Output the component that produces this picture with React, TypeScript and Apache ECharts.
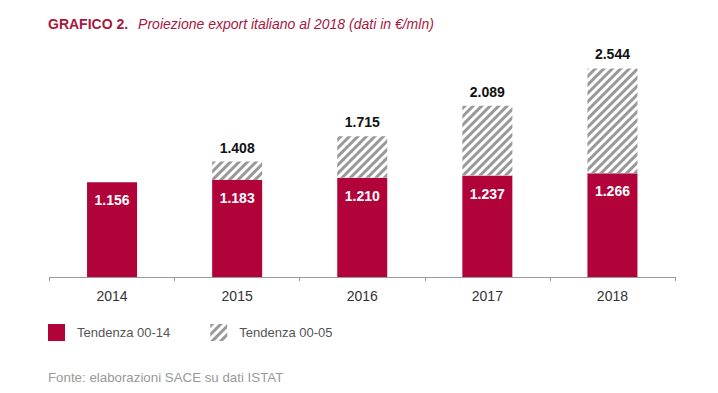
import React, { useEffect, useRef } from "react";
import * as echarts from "echarts";

const years = ["2014", "2015", "2016", "2017", "2018"];
const tendenza0014 = [1156, 1183, 1210, 1237, 1266];
const totals: (number | null)[] = [null, 1408, 1715, 2089, 2544];
const seriesNames = ["Tendenza 00-14", "Tendenza 00-05"];

const RED = "#b1023a";
const FONT = "Liberation Sans, Arial, sans-serif";
const fmt = (v: number) => String(Math.round(v)).replace(/\B(?=(\d{3})+(?!\d))/g, ".");

export default function App() {
  const ref = useRef<HTMLDivElement>(null);
  useEffect(() => {
    const chart = echarts.init(ref.current!, null, { renderer: "svg" });
    const hatch = totals.map((t, i) => (t == null ? null : t - tendenza0014[i]));
    chart.setOption({
      animation: false,
      textStyle: { fontFamily: FONT },
      title: {
        left: 48,
        top: 15,
        padding: 0,
        text: "{b|GRAFICO 2.}  {i|Proiezione export italiano al 2018 (dati in €/mln)}",
        textStyle: {
          fontWeight: "normal",
          rich: {
            b: { fontSize: 14, fontWeight: "bold", color: "#a8173e", fontFamily: FONT },
            i: { fontSize: 14, fontWeight: "normal", fontStyle: "italic", color: "#a8173e", fontFamily: FONT },
          },
        },
      },
      graphic: [
        {
          type: "text",
          left: 48,
          top: 371,
          style: {
            text: "Fonte: elaborazioni SACE su dati ISTAT",
            fontSize: 13.3,
            fill: "#999",
            fontFamily: FONT,
          },
        },
      ],
      legend: {
        left: 48,
        top: 324,
        padding: 0,
        itemWidth: 17,
        itemHeight: 17,
        itemGap: 40,
        icon: "rect",
        textStyle: { fontSize: 13, color: "#555", padding: [0, 0, 0, 7] },
        data: seriesNames,
      },
      grid: { left: 49.5, right: 43, top: 31, bottom: 116 },
      xAxis: {
        type: "category",
        data: years,
        axisLine: { lineStyle: { color: "#999", width: 1 } },
        axisTick: { show: true, length: 4, lineStyle: { color: "#999" } },
        axisLabel: { fontSize: 14, color: "#333", margin: 12 },
      },
      yAxis: { type: "value", min: 0, max: 3000, show: false, splitLine: { show: false } },
      series: [
        {
          name: seriesNames[0],
          type: "bar",
          stack: "tot",
          barWidth: 50,
          data: tendenza0014,
          itemStyle: { color: RED },
          label: {
            show: true,
            position: "insideTop",
            distance: 11,
            color: "#fff",
            fontSize: 14,
            fontWeight: "bold",
            formatter: (p: any) => fmt(p.value),
          },
        },
        {
          name: seriesNames[1],
          type: "bar",
          stack: "tot",
          barWidth: 50,
          data: hatch,
          itemStyle: {
            color: "#ffffff",
            decal: {
              symbol: "rect",
              symbolSize: 1,
              color: "#999999",
              backgroundColor: "#ffffff",
              dashArrayX: [1, 0],
              dashArrayY: [2.5, 2.5],
              rotation: -Math.PI / 4,
            },
          },
          label: {
            show: true,
            position: "top",
            distance: 7,
            color: "#111",
            fontSize: 14,
            fontWeight: "bold",
            formatter: (p: any) => (totals[p.dataIndex] == null ? "" : fmt(totals[p.dataIndex] as number)),
          },
        },
      ],
    });
    return () => chart.dispose();
  }, []);
  return <div ref={ref} style={{ width: 718, height: 393, position: "absolute", left: 0, top: 0 }} />;
}
